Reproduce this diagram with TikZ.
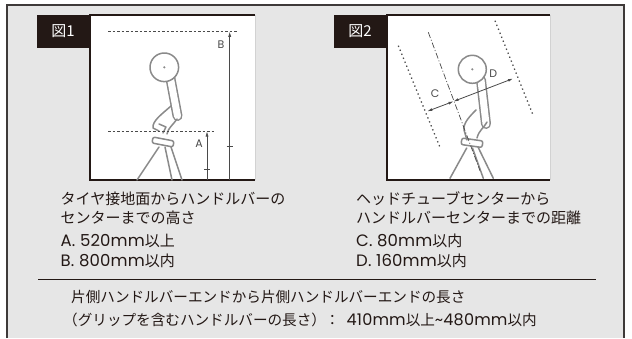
\documentclass[tikz,border=0pt]{standalone}
\usepackage{fontspec}
\setmainfont{Noto Sans CJK JP}
\newfontfamily\latinfont[Scale=1.1, LetterSpace=1]{Poppins}

\usetikzlibrary{arrows.meta, positioning}

\definecolor{inkblack}{HTML}{231815}
\definecolor{panelgray}{HTML}{E6E6E6}
\definecolor{framegray}{HTML}{3E3A39}
\definecolor{sketchgray}{HTML}{8A8A8A}
\definecolor{dimgray}{HTML}{4A4A4A}

\newcommand{\lat}[1]{{\latinfont #1}}

\begin{document}
\begin{tikzpicture}[
    x=1pt, y=-1pt,
    desc/.style={anchor=base west, inner sep=0pt, align=left, text=inkblack, font=\fontsize{15}{19.3}\selectfont},
    note/.style={anchor=base west, inner sep=0pt, text=inkblack, font=\fontsize{14.6}{23}\selectfont},
    figtag/.style={fill=inkblack, text=white, minimum width=52pt, minimum height=33pt, inner sep=0pt, font=\fontsize{15}{15}\selectfont},
    dimlabel/.style={text=dimgray, inner sep=0pt, font=\latinfont\fontsize{10}{10}\selectfont},
    guide/.style={draw=dimgray, line width=1pt, dash pattern=on 2.5pt off 2pt},
    dotguide/.style={draw=dimgray, line width=1.3pt, dash pattern=on 1.3pt off 3pt},
    axisline/.style={draw=dimgray, line width=0.7pt, dash pattern=on 6pt off 2pt on 1pt off 2pt},
    dimarrow/.style={draw=dimgray, line width=0.6pt, -{Latex[length=5pt, width=3pt]}},
    dimboth/.style={draw=dimgray, line width=0.8pt, {Latex[length=5pt, width=3pt]}-{Latex[length=5pt, width=3pt]}},
    sketch/.style={draw=sketchgray, line width=1.5pt, line cap=round, line join=round},
    tube/.style={sketch, double=white, double distance=7pt}
]
    \useasboundingbox (0,0) rectangle (632,338);

    % Outer frame
    \fill[panelgray] (7,5) rectangle (624,338);
    \draw[framegray, line width=1.5pt] (7,338) -- (7,5) -- (624,5) -- (624,338);

    % Panels
    \fill[white] (90,15) rectangle (255,180);
    \draw[gray!35, line width=1pt] (255,15) -- (255,180);
    \draw[inkblack, line width=1.5pt] (255,15) -- (90,15) -- (90,180) -- (255,180);
    \fill[white] (387,15) rectangle (550,180);
    \draw[gray!35, line width=1pt] (550,15) -- (550,180);
    \draw[inkblack, line width=1.5pt] (550,15) -- (387,15) -- (387,180) -- (550,180);

    \node[figtag] (tag1) at (63,31.5) {図1};
    \node[figtag] (tag2) at (360,31.5) {図2};

    % Figure 1: handlebar height
    \draw[tube] (170,76) -- (177.5,116);
    \filldraw[sketch, fill=white] (164.3,67.3) circle (14.3);
    \fill[sketchgray] (164.3,67.3) circle (1.2);
    \draw[sketch] (171,106) .. controls (162,114) and (152,121) .. (153,128) -- (159,131);
    \draw[sketch] (177,119) .. controls (173,125) and (168,128) .. (167,134);
    \draw[sketch] (159,124) -- (166,127) -- (163,133);
    \draw[sketch, rounded corners=2pt] (153,137) -- (174,141) -- (173,147) -- (152,143) -- cycle;
    \draw[sketch] (159,147) -- (137,180);
    \draw[sketch] (165,147) -- (172,180);
    \draw[sketch] (171,147) -- (182,180);

    \draw[guide] (108,31.3) -- (238,31.3);
    \draw[guide] (108,131) -- (215,131);
    \draw[dimarrow] (229.7,180) -- (229.7,31.8);
    \draw[dimgray, line width=0.6pt] (226.7,146) -- (232.7,146);
    \draw[dimarrow] (207,180) -- (207,131.5);
    \draw[dimgray, line width=0.6pt] (204,169) -- (210,169);
    \node[dimlabel] (labB) at (221,45) {B};
    \node[dimlabel] (labA) at (199,143.5) {A};

    % Figure 2: offset from head tube axis
    \draw[tube] (481,80) -- (486,124);
    \filldraw[sketch, fill=white] (472.3,69.3) circle (14);
    \fill[sketchgray] (472.3,69.3) circle (1.2);
    \draw[sketch] (476,110) .. controls (470,116) and (463,123) .. (464,130) -- (467,140);
    \draw[sketch] (487,122) .. controls (484,128) and (479,130) .. (477,138);
    \draw[sketch, rounded corners=2pt] (462,138) -- (483,141) -- (482,147.5) -- (461,144.5) -- cycle;
    \draw[sketch] (466.7,148) -- (450,178.3);
    \draw[sketch] (472.5,148) -- (483.3,178.3);
    \draw[sketch] (478,147) -- (493.3,178.3);

    \draw[dotguide] (398.3,45.7) -- (440,147.3);
    \draw[dotguide] (495,20.7) -- (533.3,115.7);
    \draw[axisline] (428.3,32.3) -- (480,170.7);
    \coordinate (cross) at (453.5,101.4);
    \draw[dimboth] (427.3,111.3) -- (cross);
    \draw[dimboth] (cross) -- (513,78.6);
    \node[dimlabel] (labC) at (435,94) {C};
    \node[dimlabel] (labD) at (493.3,73.3) {D};

    % Captions (base = last line)
    \node[desc] (cap1) at (60.5,223.8) {タイヤ接地面からハンドルバーの\\センターまでの高さ};
    \node[desc] (val1) at (60.5,266) {\lat{A. 520mm}以上\\\lat{B. 800mm}以内};
    \node[desc] (cap2) at (356,223.8) {ヘッドチューブセンターから\\ハンドルバーセンターまでの距離};
    \node[desc] (val2) at (356,266) {\lat{C. 80mm}以内\\\lat{D. 160mm}以内};

    % Bottom note
    \draw[inkblack, line width=1pt] (38,279.5) -- (596,279.5);
    \node[note] (len1) at (71,302.5) {片側ハンドルバーエンドから片側ハンドルバーエンドの長さ};
    \node[note] (len2) at (63,325.5) {（グリップを含むハンドルバーの長さ）};
    \node[note] (colon) at (325,325.5) {：};
    \node[note] (len3) at (346.5,325.5) {\lat{410mm}以上\lat{\textasciitilde 480mm}以内};
\end{tikzpicture}
\end{document}
